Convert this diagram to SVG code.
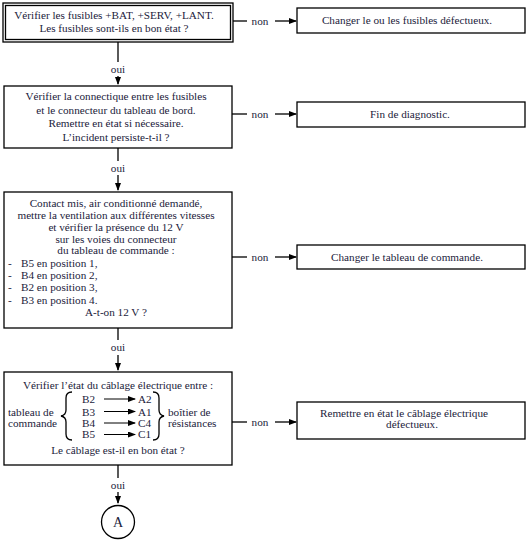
<svg xmlns="http://www.w3.org/2000/svg" width="530" height="541" viewBox="0 0 530 541">
<style>
text{font-family:"Liberation Serif","Times New Roman",serif;font-size:11.2px;fill:#1b1b3b}
.c{text-anchor:middle}
.box{fill:#fff;stroke:#000;stroke-width:1.3}
.ln{stroke:#000;stroke-width:1.3;fill:none}
.ar{stroke:#000;stroke-width:1;fill:none}
</style>
<defs>
<marker id="ah" markerWidth="8" markerHeight="6" refX="7" refY="3" orient="auto" markerUnits="userSpaceOnUse">
<path d="M0,0 L8,3 L0,6 Z" fill="#000"/>
</marker>
</defs>
<rect width="530" height="541" fill="#fff"/>
<g id="connectors">
<path class="ln" d="M118,42 V62"/><path class="ln" d="M118,76 V84" marker-end="url(#ah)"/>
<path class="ln" d="M118,148 V161"/><path class="ln" d="M118,175 V190" marker-end="url(#ah)"/>
<path class="ln" d="M118,328 V340"/><path class="ln" d="M118,355 V370" marker-end="url(#ah)"/>
<path class="ln" d="M118,465 V478"/><path class="ln" d="M118,492 V503" marker-end="url(#ah)"/>
<text class="c" x="118" y="73">oui</text>
<text class="c" x="118" y="172">oui</text>
<text class="c" x="118" y="351">oui</text>
<text class="c" x="118" y="489">oui</text>
<path class="ln" d="M233,21 H247"/><path class="ln" d="M275,21 H296" marker-end="url(#ah)"/>
<text class="c" x="260" y="24.5">non</text>
<path class="ln" d="M232,114 H247"/><path class="ln" d="M275,114 H296" marker-end="url(#ah)"/>
<text class="c" x="260" y="117.5">non</text>
<path class="ln" d="M232,257 H247"/><path class="ln" d="M275,257 H296" marker-end="url(#ah)"/>
<text class="c" x="260" y="260.5">non</text>
<path class="ln" d="M232,422 H247"/><path class="ln" d="M275,422 H296" marker-end="url(#ah)"/>
<text class="c" x="260" y="425.5">non</text>
</g>
<g id="n1">
<rect class="box" x="3" y="3" width="230" height="39"/>
<rect class="ln" x="5.5" y="5.5" width="225" height="34" stroke-width="1"/>
<text class="c" x="114" y="19">Vérifier les fusibles +BAT, +SERV, +LANT.</text>
<text class="c" x="114" y="32">Les fusibles sont-ils en bon état ?</text>
</g>
<g id="r1">
<rect class="box" x="297" y="8" width="228" height="25"/>
<text class="c" x="407" y="24">Changer le ou les fusibles défectueux.</text>
</g>
<g id="n2">
<rect class="box" x="4" y="86" width="228" height="62"/>
<text class="c" x="116" y="100">Vérifier la connectique entre les fusibles</text>
<text class="c" x="116" y="113.5">et le connecteur du tableau de bord.</text>
<text class="c" x="116" y="127">Remettre en état si nécessaire.</text>
<text class="c" x="116" y="140.5">L’incident persiste-t-il ?</text>
</g>
<g id="r2">
<rect class="box" x="297" y="102" width="228" height="25"/>
<text class="c" x="410" y="118">Fin de diagnostic.</text>
</g>
<g id="n3">
<rect class="box" x="4" y="192" width="228" height="136"/>
<text class="c" x="116" y="206.5">Contact mis, air conditionné demandé,</text>
<text class="c" x="116" y="218.5">mettre la ventilation aux différentes vitesses</text>
<text class="c" x="116" y="230.5">et vérifier la présence du 12 V</text>
<text class="c" x="116" y="242.5">sur les voies du connecteur</text>
<text class="c" x="116" y="254">du tableau de commande :</text>
<text x="8" y="266.5">-</text><text x="21" y="266.5">B5 en position 1,</text>
<text x="8" y="279">-</text><text x="21" y="279">B4 en position 2,</text>
<text x="8" y="291">-</text><text x="21" y="291">B2 en position 3,</text>
<text x="8" y="303.5">-</text><text x="21" y="303.5">B3 en position 4.</text>
<text class="c" x="116" y="316">A-t-on 12 V ?</text>
</g>
<g id="r3">
<rect class="box" x="297" y="245" width="228" height="24"/>
<text class="c" x="407" y="260.5">Changer le tableau de commande.</text>
</g>
<g id="n4">
<rect class="box" x="4" y="372" width="228" height="93"/>
<text class="c" x="118" y="388.5">Vérifier l’état du câblage électrique entre :</text>
<text x="8" y="415.5">tableau de</text>
<text x="8" y="426.5">commande</text>
<path class="ln" stroke-width="1.2" d="M72,392 Q66,392 66,398 V410 Q66,415 61,416 Q66,417 66,422 V434 Q66,440 72,440"/>
<text x="82" y="402.5">B2</text><text x="82" y="415.5">B3</text><text x="82" y="427">B4</text><text x="82" y="438">B5</text>
<path class="ar" d="M104,399 H135" marker-end="url(#ah)"/>
<path class="ar" d="M104,411.5 H135" marker-end="url(#ah)"/>
<path class="ar" d="M104,423 H135" marker-end="url(#ah)"/>
<path class="ar" d="M104,434.5 H135" marker-end="url(#ah)"/>
<text x="138" y="402.5">A2</text><text x="138" y="415.5">A1</text><text x="138" y="427">C4</text><text x="138" y="438">C1</text>
<path class="ln" stroke-width="1.2" d="M153,392 Q159,392 159,398 V410 Q159,415 164,416 Q159,417 159,422 V434 Q159,440 153,440"/>
<text x="168" y="415.5">boîtier de</text>
<text x="168" y="426.5">résistances</text>
<text class="c" x="118" y="453.5">Le câblage est-il en bon état ?</text>
</g>
<g id="r4">
<rect class="box" x="297" y="402" width="228" height="37"/>
<text class="c" x="404" y="416.5">Remettre en état le câblage électrique</text>
<text class="c" x="412" y="428">défectueux.</text>
</g>
<g id="A">
<circle cx="118" cy="522" r="16.5" fill="#fff" stroke="#000" stroke-width="1.3"/>
<text class="c" x="118" y="527" style="font-size:14px">A</text>
</g>
</svg>
